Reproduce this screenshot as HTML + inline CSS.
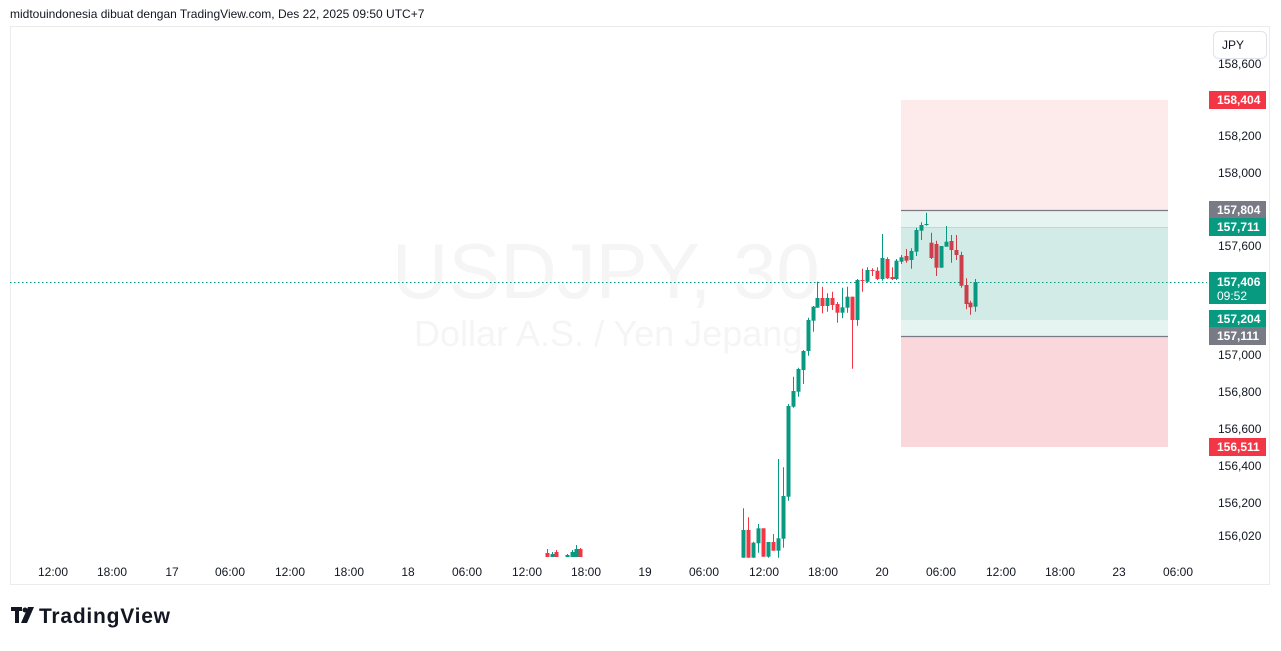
<!DOCTYPE html>
<html><head><meta charset="utf-8"><style>
body{margin:0;background:#fff;width:1281px;height:646px;overflow:hidden;font-family:"Liberation Sans",sans-serif;}
</style></head><body>
<svg id="s" width="1281" height="646" xmlns="http://www.w3.org/2000/svg" font-family="Liberation Sans, sans-serif">
<text x="10" y="18" font-size="12" fill="#131722">midtouindonesia dibuat dengan TradingView.com, Des 22, 2025 09:50 UTC+7</text>
<rect x="10.5" y="26.5" width="1259" height="558" fill="#fff" stroke="#ececec"/>
<text x="392" y="298" font-size="78" fill="#f5f5f5">USDJPY, 30</text>
<text x="414" y="346" font-size="36" fill="#f5f5f5">Dollar A.S. / Yen Jepang</text>
<rect x="901" y="100" width="267" height="110" fill="#fdeaeb"/>
<rect x="901" y="210" width="267" height="17" fill="#e6f4f1"/>
<rect x="901" y="227" width="267" height="93" fill="#d2ebe6"/>
<rect x="901" y="320" width="267" height="16" fill="#e6f4f1"/>
<rect x="901" y="336" width="267" height="111" fill="#fad7da"/>
<line x1="901" y1="210.5" x2="1168" y2="210.5" stroke="#787b86" stroke-width="1.2"/>
<line x1="901" y1="336.5" x2="1168" y2="336.5" stroke="#787b86" stroke-width="1.2"/>
<line x1="901" y1="227.5" x2="1168" y2="227.5" stroke="#b8ddd5" stroke-width="1"/>
<line x1="10" y1="282.5" x2="1207" y2="282.5" stroke="#089981" stroke-dasharray="1.5 2.5"/>
<g id="c"></g>
<g font-size="12" fill="#131722" text-anchor="middle">
<text x="53" y="576">12:00</text><text x="112" y="576">18:00</text><text x="172" y="576">17</text>
<text x="230" y="576">06:00</text><text x="290" y="576">12:00</text><text x="349" y="576">18:00</text>
<text x="408" y="576">18</text><text x="467" y="576">06:00</text><text x="527" y="576">12:00</text>
<text x="586" y="576">18:00</text><text x="645" y="576">19</text><text x="704" y="576">06:00</text>
<text x="764" y="576">12:00</text><text x="823" y="576">18:00</text><text x="882" y="576">20</text>
<text x="941" y="576">06:00</text><text x="1001" y="576">12:00</text><text x="1060" y="576">18:00</text>
<text x="1119" y="576">23</text><text x="1178" y="576">06:00</text>
</g>
<rect x="1213.5" y="31.5" width="53" height="27" rx="5" fill="#fff" stroke="#e0e3eb"/>
<text x="1222" y="49" font-size="12" fill="#131722">JPY</text>
<g font-size="12" fill="#131722">
<text x="1218" y="68">158,600</text><text x="1218" y="140">158,200</text><text x="1218" y="177">158,000</text>
<text x="1218" y="250">157,600</text><text x="1218" y="359">157,000</text><text x="1218" y="396">156,800</text>
<text x="1218" y="433">156,600</text><text x="1218" y="470">156,400</text><text x="1218" y="507">156,200</text>
<text x="1218" y="540">156,020</text>
</g>
<g font-size="12" font-weight="bold" fill="#fff">
<rect x="1209" y="91" width="57" height="18" fill="#f23645"/><text x="1217" y="104">158,404</text>
<rect x="1209" y="201" width="57" height="18" fill="#787b86"/><text x="1217" y="214">157,804</text>
<rect x="1209" y="218" width="57" height="18" fill="#089981"/><text x="1217" y="231">157,711</text>
<rect x="1209" y="272" width="57" height="32" fill="#089981"/><text x="1217" y="286">157,406</text><text x="1217" y="300" font-weight="normal">09:52</text>
<rect x="1209" y="310" width="57" height="18" fill="#089981"/><text x="1217" y="323">157,204</text>
<rect x="1209" y="327" width="57" height="18" fill="#787b86"/><text x="1217" y="340">157,111</text>
<rect x="1209" y="438" width="57" height="18" fill="#f23645"/><text x="1217" y="451">156,511</text>
</g>
<g fill="#131722"><rect x="11" y="607" width="11" height="4"/><rect x="15" y="607" width="4" height="16"/><circle cx="25" cy="610" r="2.5"/><polygon points="28,607 34,607 27,623 21,623"/></g>
<text x="39" y="623" font-size="21" font-weight="bold" fill="#131722" textLength="131">TradingView</text>
</svg>
<script>
var d=[[743,1050,1133,985,1133,1],[748,1050,1133,1012,1133,0],[753,1088,1133,1085,1133,1],[758,1045,1090,1032,1118,1],[763,1045,1130,1045,1130,0],[768,1086,1130,1086,1133,1],[773,1086,1112,1062,1112,0],[778,1075,1112,837,1133,1],[783,948,1076,862,1103,1],[788,678,950,672,962,1],[793,633,680,590,683,1],[798,567,635,563,650,1],[803,513,570,510,612,1],[808,420,513,413,527,1],[813,380,422,378,455,1],[817,354,383,305,383,1],[822,354,378,320,400,0],[827,354,378,340,395,1],[832,354,375,335,390,0],[837,372,398,366,428,0],[842,382,398,323,415,1],[847,350,383,320,398,1],[852,350,420,350,566,0],[857,300,420,297,437,1],[862,300,303,266,335,0],[867,270,305,262,308,1],[872,270,273,265,288,0],[877,272,297,262,300,0],[882,234,297,162,302,1],[887,237,295,232,297,0],[892,291,297,262,300,0],[896,242,297,237,300,1],[901,232,245,225,252,1],[906,228,242,207,248,0],[911,213,240,205,266,1],[916,150,215,143,228,1],[921,135,152,127,180,1],[926,132,135,98,137,1],[931,188,234,158,237,0],[936,192,263,182,288,0],[941,198,263,198,263,1],[946,185,200,138,200,1],[951,183,210,165,248,0],[956,210,225,165,240,0],[961,225,317,215,323,0],[966,315,372,295,388,0],[970,368,382,362,404,0],[975,306,380,297,395,1]];
var h='';
function c(x,t,b,ht,lo,g){var col=g?'#089981':'#f23645';if(x>=901&&!g)col='#cc3e4a';h+='<line x1="'+x+'" x2="'+x+'" y1="'+ht+'" y2="'+lo+'" stroke="'+col+'" stroke-width="1"/>';h+='<rect x="'+(x-2)+'" y="'+t+'" width="4" height="'+Math.max(1,b-t)+'" fill="'+col+'"/>';}
d.forEach(function(a){var f=function(v){return (v/3+180).toFixed(1)};c(a[0]+.5,f(a[1]),f(a[2]),f(a[3]),f(a[4]),a[5]);});
[[547,553,557,549,557,0],[552,554,557,552,557,1],[556,552,557,550,557,0],[567,555,557,554,557,1],[572,552,557,550,557,1],[576,549,557,545,557,1],[580,549,557,548,557,0]].forEach(function(a){c(a[0]+.5,a[1],a[2],a[3],a[4],a[5]);});
document.getElementById('c').innerHTML=h;
</script>
</body></html>
